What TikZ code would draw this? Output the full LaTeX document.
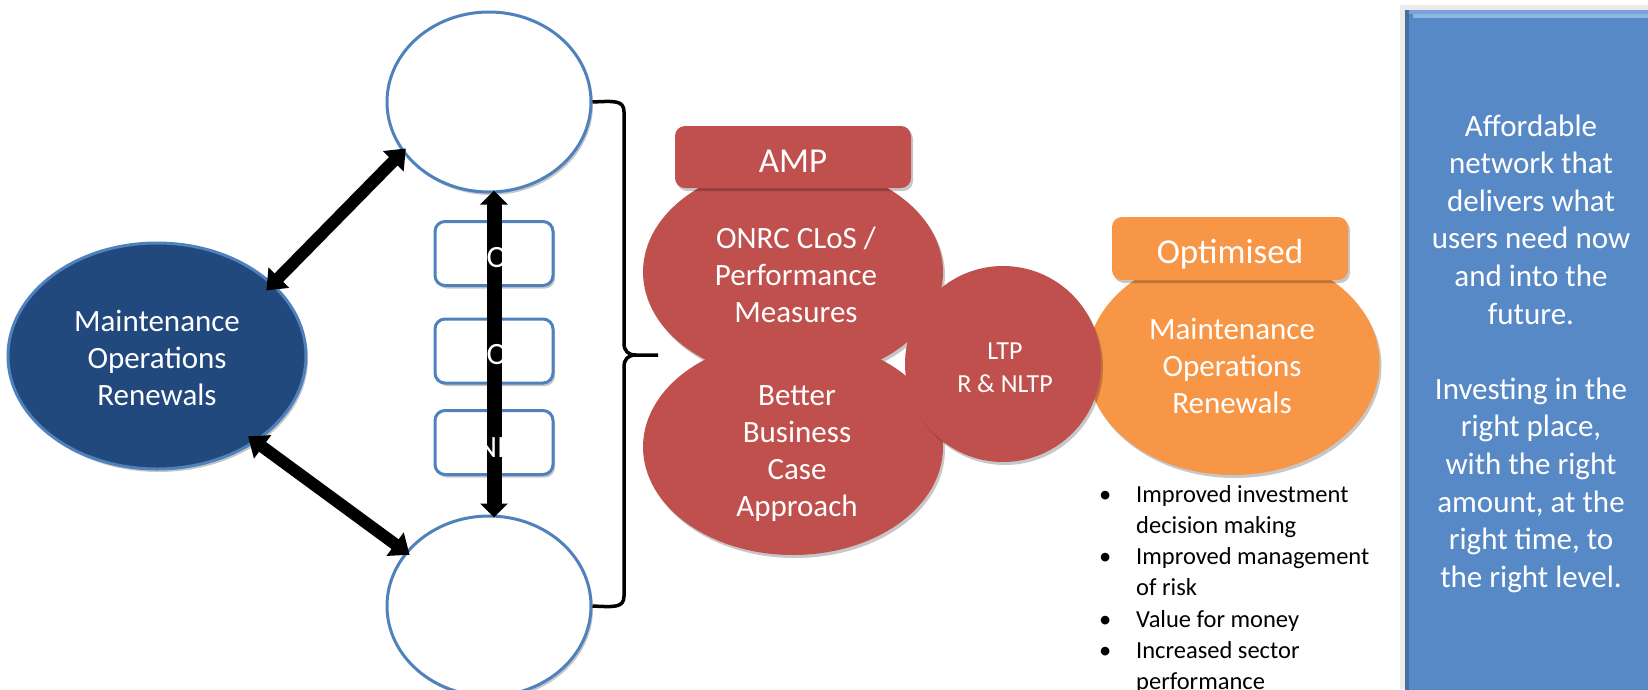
\documentclass[tikz,border=0pt]{standalone}
\usepackage{fontspec}
\setmainfont{Carlito}
\usetikzlibrary{arrows.meta,shadows,shapes.geometric}
\definecolor{ol}{RGB}{79,129,189}
\definecolor{navy}{RGB}{33,73,125}
\definecolor{brick}{RGB}{192,80,77}
\definecolor{amber}{RGB}{247,150,70}
\definecolor{panel}{RGB}{88,137,199}
\definecolor{panellight}{RGB}{142,181,228}
\definecolor{panelmid}{RGB}{120,163,218}
\definecolor{paneldark}{RGB}{72,110,160}
\newcommand\txtstack[1]{\begin{tabular}[t]{@{}c@{}}#1\end{tabular}}
\begin{document}
\begin{tikzpicture}[x=1pt,y=-1pt,
  softshadow/.style={drop shadow={shadow xshift=2pt,shadow yshift=-3pt,opacity=0.22,fill=black}},
  ring/.style={ellipse,draw=ol,line width=3pt,fill=white,minimum width=204pt,minimum height=180pt,inner sep=0pt,softshadow},
  hub/.style={ellipse,draw=ol,line width=3pt,fill=navy,minimum width=298pt,minimum height=226pt,inner sep=0pt,softshadow},
  smallbox/.style={rectangle,rounded corners=10pt,draw=ol,line width=3pt,fill=white,minimum width=118pt,minimum height=64pt,inner sep=0pt,softshadow},
  redell/.style={ellipse,fill=brick,minimum width=300pt,minimum height=216pt,inner sep=0pt,softshadow},
  redrect/.style={rectangle,rounded corners=10pt,fill=brick,minimum width=236pt,minimum height=62pt,inner sep=0pt,softshadow},
  redcirc/.style={circle,fill=brick,minimum size=196pt,inner sep=0pt,softshadow},
  orell/.style={ellipse,fill=amber,minimum width=293pt,minimum height=224pt,inner sep=0pt,softshadow},
  orrect/.style={rectangle,rounded corners=10pt,fill=amber,minimum width=236pt,minimum height=63pt,inner sep=0pt,softshadow},
  txt/.style={text=white,inner sep=0pt,anchor=base,font=\fontsize{31}{37.3}\selectfont},
  dbl/.style={line width=12pt,{Triangle[width=28pt,length=18pt]}-{Triangle[width=28pt,length=18pt]}},
  vdbl/.style={line width=15pt,{Triangle[width=27pt,length=14pt]}-{Triangle[width=27pt,length=14pt]}},
  bracestyle/.style={line width=3.5pt,black,line join=round}
]
\useasboundingbox (0,0) rectangle (1648,689);

% left hub and white ellipses
\node[hub] (L) at (157,356) {};
\node[txt] (Lt) at (157,331) {\txtstack{Maintenance\\Operations\\Renewals}};
\node[ring] (T) at (489,102) {};
\node[ring] (B) at (489,606) {};

% small boxes
\node[smallbox] (b1) at (494,253.5) {};
\node[smallbox] (b2) at (494,351) {};
\node[smallbox] (b3) at (494,442.5) {};

% arrows
\draw[dbl,shorten <=-10pt,shorten >=-5pt] (L.32.5) -- (T.210);
\draw[dbl,shorten <=-10pt,shorten >=-5pt] (L.-41.2) -- (B.147);
\draw[vdbl,shorten <=-3pt,shorten >=-3pt] ([xshift=5pt]T.south) -- ([xshift=5pt]B.north);

% box labels (white)
\node[txt] (b1t) at (497,267) {O};
\node[txt] (b2t) at (497,364) {O};
\node[txt] (b3t) at (491,457) {NI};

% brace
\draw[bracestyle] (T.east) .. controls (614,101) and (624,100) .. (624,112) -- (624,343)
   .. controls (624,351) and (628,355) .. (636,355) -- (658,355);
\draw[bracestyle] (B.east) .. controls (614,607) and (624,608) .. (624,596) -- (624,367)
   .. controls (624,359) and (628,355) .. (636,355);

% red group
\node[redell] (onrc) at (793,272) {};
\node[redrect] (amp) at (793,157) {};
\node[redell] (bbc) at (793,447) {};
\node[orell] (opt) at (1233,363) {};
\node[orrect] (optr) at (1230,248.5) {};
\node[redcirc] (ltp) at (1003,364) {};

\node[txt,font=\fontsize{35}{40}\selectfont] (ampt) at (793,172) {AMP};
\node[txt] (onrct) at (796,248) {\txtstack{ONRC CLoS /\\Performance\\Measures}};
\node[txt] (bbct) at (797,405) {\txtstack{Better\\Business\\Case\\Approach}};
\node[txt,font=\fontsize{26}{33}\selectfont] (ltpt) at (1005,359) {\txtstack{LTP\\R \& NLTP}};
\node[txt,font=\fontsize{35}{40}\selectfont] (optt) at (1230,263) {Optimised};
\node[txt] (optxt) at (1232,339) {\txtstack{Maintenance\\Operations\\Renewals}};

% bullets
\node[anchor=base west,inner sep=0pt,font=\fontsize{24.5}{31.3}\selectfont] (bul) at (1099,502)
 {\begin{tabular}[t]{@{}p{37pt}@{}l@{}}
 \textbullet & Improved investment\\
  & decision making\\
 \textbullet & Improved management\\
  & of risk\\
 \textbullet & Value for money\\
 \textbullet & Increased sector\\
  & performance
 \end{tabular}};

% right panel
\fill[black!8] (1400,5) rectangle (1648,689);
\node[rectangle,fill=panel,minimum width=243pt,minimum height=690pt,anchor=north west,inner sep=0pt] (P) at (1405,10) {};
\fill[paneldark] (P.north west) rectangle ++(4,690);
\fill[panelmid] (1409,10) rectangle (1648,14);
\fill[panellight] (1413,14) rectangle (1648,18);
\node[txt,font=\fontsize{31}{37.6}\selectfont] (Pt) at (1531,136)
 {\txtstack{Affordable\\network that\\delivers what\\users need now\\and into the\\future.\\ \\Investing in the\\right place,\\with the right\\amount, at the\\right time, to\\the right level.}};
\end{tikzpicture}
\end{document}
